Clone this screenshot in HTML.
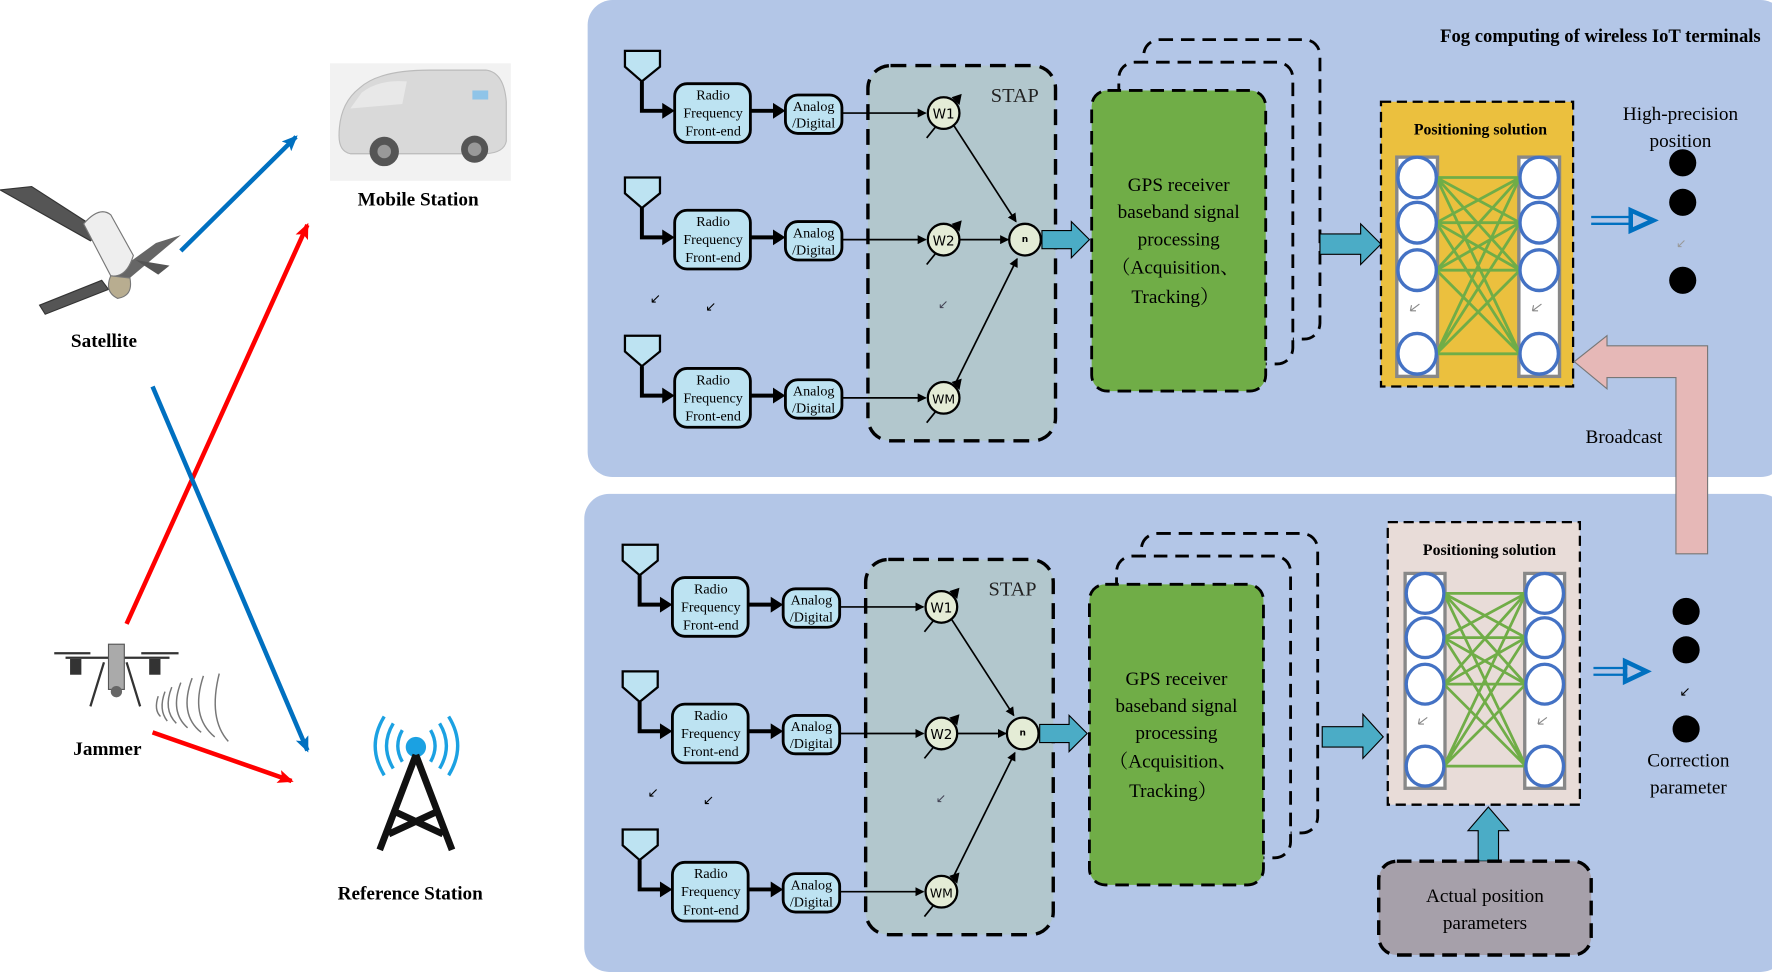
<!DOCTYPE html>
<html><head><meta charset="utf-8"><style>
html,body{margin:0;padding:0;background:#fff;}
svg{display:block;}
text{font-family:"Liberation Serif","DejaVu Serif",serif;}
text.s{font-family:"DejaVu Sans",sans-serif;}
text.a{font-family:"Liberation Sans",sans-serif;}
</style></head><body>
<svg width="1772" height="972" viewBox="0 0 1568 860" xmlns="http://www.w3.org/2000/svg">
<defs>
<marker id="ah" markerWidth="8" markerHeight="8" refX="7" refY="4" orient="auto" markerUnits="userSpaceOnUse"><path d="M0,0 L8,4 L0,8 z" fill="#000"/></marker>
<marker id="ahb" markerWidth="14" markerHeight="12" refX="12" refY="6" orient="auto" markerUnits="userSpaceOnUse"><path d="M0,0 L14,6 L0,12 L3,6 z" fill="#0070c0"/></marker>
<marker id="ahr" markerWidth="14" markerHeight="12" refX="12" refY="6" orient="auto" markerUnits="userSpaceOnUse"><path d="M0,0 L14,6 L0,12 L3,6 z" fill="#ff0000"/></marker>
<g id="row">
  <path d="M553,45 L584,45 L584,59 L568,72 L553,59 Z" fill="#bde3f2" stroke="#000" stroke-width="2"/>
  <path d="M568,72 L568,98 L588,98" fill="none" stroke="#000" stroke-width="3.5"/>
  <path d="M586,91 L597,98 L586,105 z" fill="#000"/>
  <rect x="597" y="74" width="67" height="52" rx="11" fill="#bde3f2" stroke="#000" stroke-width="2.5"/>
  <path d="M664,98 L686,98" stroke="#000" stroke-width="3.5"/>
  <path d="M684,91 L695,98 L684,105 z" fill="#000"/>
  <rect x="695" y="84" width="50" height="34" rx="11" fill="#bde3f2" stroke="#000" stroke-width="2.5"/>
  <path d="M745,100 L819,100" stroke="#000" stroke-width="1.5" marker-end="url(#ah)"/>
  <path d="M820,122 L849,86" stroke="#000" stroke-width="1.5"/>
  <path d="M842,86 L851,83 L849,93 z" fill="#000"/>
</g>
<g id="panel">
  <rect x="768" y="58" width="166" height="332" rx="20" fill="#b2c7cd" stroke="#000" stroke-width="3" stroke-dasharray="14,8"/>
  <use href="#row"/>
  <use href="#row" transform="translate(0,112)"/>
  <use href="#row" transform="translate(0,252)"/>
  <circle cx="835" cy="100" r="14" fill="#e4ecd6" stroke="#000" stroke-width="2"/>
  <circle cx="835" cy="212" r="14" fill="#e4ecd6" stroke="#000" stroke-width="2"/>
  <circle cx="835" cy="352" r="14" fill="#e4ecd6" stroke="#000" stroke-width="2"/>
  <circle cx="907" cy="212" r="14" fill="#e4ecd6" stroke="#000" stroke-width="2"/>
  <path d="M844,111 L899,196" stroke="#000" stroke-width="1.5" marker-end="url(#ah)"/>
  <path d="M849,212 L892,212" stroke="#000" stroke-width="1.5" marker-end="url(#ah)"/>
  <path d="M845,340 L900,229" stroke="#000" stroke-width="1.5" marker-end="url(#ah)"/>
  <path d="M922,204 L948,204 L948,196 L964,212 L948,228 L948,220 L922,220 Z" fill="#4bacc6" stroke="#000" stroke-width="1"/>
  <rect x="1012" y="35" width="156" height="265" rx="14" fill="none" stroke="#000" stroke-width="2.5" stroke-dasharray="12,7"/>
  <rect x="990" y="55" width="154" height="267" rx="14" fill="#b3c6e7" stroke="#000" stroke-width="2.5" stroke-dasharray="12,7"/>
  <rect x="966" y="80" width="154" height="266" rx="14" fill="#70ad47" stroke="#000" stroke-width="2.5" stroke-dasharray="12,7"/>
</g>
<g id="nn">
  <rect x="-18" y="-18" width="36" height="194" fill="#fff" stroke="#888" stroke-width="3"/>
  <rect x="90" y="-18" width="36" height="194" fill="#fff" stroke="#888" stroke-width="3"/>
  <g stroke="#70ad47" stroke-width="2.5">
   <path d="M17,0 L91,0 M17,0 L91,40 M17,0 L91,82 M17,0 L91,156 M17,40 L91,0 M17,40 L91,40 M17,40 L91,82 M17,40 L91,156 M17,82 L91,0 M17,82 L91,40 M17,82 L91,82 M17,82 L91,156 M17,156 L91,0 M17,156 L91,40 M17,156 L91,82 M17,156 L91,156"/>
  </g>
  <g fill="#fff" stroke="#4472c4" stroke-width="3">
   <ellipse cx="0" cy="0" rx="17" ry="18"/><ellipse cx="0" cy="40" rx="17" ry="18"/><ellipse cx="0" cy="82" rx="17" ry="18"/><ellipse cx="0" cy="156" rx="17" ry="18"/>
   <ellipse cx="108" cy="0" rx="17" ry="18"/><ellipse cx="108" cy="40" rx="17" ry="18"/><ellipse cx="108" cy="82" rx="17" ry="18"/><ellipse cx="108" cy="156" rx="17" ry="18"/>
  </g>
  <path d="M2,112 L-6,118 M-6,118 L-5,113 M-6,118 L-1,118 M110,112 L102,118 M102,118 L103,113 M102,118 L107,118" stroke="#888" stroke-width="1" fill="none"/>
</g>
</defs>

<rect x="520" y="0" width="1060" height="422" rx="22" fill="#b3c6e7"/>
<rect x="517" y="437" width="1063" height="423" rx="22" fill="#b3c6e7"/>
<use href="#panel"/>
<use href="#panel" transform="translate(-2,437)"/>

<g>
 <g font-size="12.5" text-anchor="middle">
  <text x="631" y="88">Radio</text><text x="631" y="104">Frequency</text><text x="631" y="120">Front-end</text>
  <text x="720" y="98">Analog</text><text x="720" y="113">/Digital</text>
  <text x="631" y="200">Radio</text><text x="631" y="216">Frequency</text><text x="631" y="232">Front-end</text>
  <text x="720" y="210">Analog</text><text x="720" y="225">/Digital</text>
  <text x="631" y="340">Radio</text><text x="631" y="356">Frequency</text><text x="631" y="372">Front-end</text>
  <text x="720" y="350">Analog</text><text x="720" y="365">/Digital</text>
 </g>
 <text x="898" y="90" font-size="18" text-anchor="middle" fill="#222">STAP</text>
 <text class="s" x="835" y="105" font-size="12" text-anchor="middle">W1</text>
 <text class="s" x="835" y="217" font-size="12" text-anchor="middle">W2</text>
 <text class="s" x="835" y="357" font-size="11" text-anchor="middle">WM</text>
 <text class="s" x="907" y="214" font-size="8" text-anchor="middle" font-weight="bold">n</text>
 <text class="a" x="575" y="268" font-size="12">↙</text>
 <text class="a" x="624" y="275" font-size="12">↙</text>
 <text class="a" x="830" y="273" font-size="11" fill="#445">↙</text>
 <g font-size="17" text-anchor="middle">
  <text x="1043" y="169">GPS receiver</text>
  <text x="1043" y="193">baseband signal</text>
  <text x="1043" y="217">processing</text>
  <text x="1040" y="242" style="font-family:'Liberation Serif','DejaVu Serif','Noto Serif CJK SC',serif">（Acquisition、</text>
  <text x="1040" y="268" style="font-family:'Liberation Serif','DejaVu Serif','Noto Serif CJK SC',serif">Tracking）</text>
 </g>
</g>
<g transform="translate(-2,437)">
 <g font-size="12.5" text-anchor="middle">
  <text x="631" y="88">Radio</text><text x="631" y="104">Frequency</text><text x="631" y="120">Front-end</text>
  <text x="720" y="98">Analog</text><text x="720" y="113">/Digital</text>
  <text x="631" y="200">Radio</text><text x="631" y="216">Frequency</text><text x="631" y="232">Front-end</text>
  <text x="720" y="210">Analog</text><text x="720" y="225">/Digital</text>
  <text x="631" y="340">Radio</text><text x="631" y="356">Frequency</text><text x="631" y="372">Front-end</text>
  <text x="720" y="350">Analog</text><text x="720" y="365">/Digital</text>
 </g>
 <text x="898" y="90" font-size="18" text-anchor="middle" fill="#222">STAP</text>
 <text class="s" x="835" y="105" font-size="12" text-anchor="middle">W1</text>
 <text class="s" x="835" y="217" font-size="12" text-anchor="middle">W2</text>
 <text class="s" x="835" y="357" font-size="11" text-anchor="middle">WM</text>
 <text class="s" x="907" y="214" font-size="8" text-anchor="middle" font-weight="bold">n</text>
 <text class="a" x="575" y="268" font-size="12">↙</text>
 <text class="a" x="624" y="275" font-size="12">↙</text>
 <text class="a" x="830" y="273" font-size="11" fill="#445">↙</text>
 <g font-size="17" text-anchor="middle">
  <text x="1043" y="169">GPS receiver</text>
  <text x="1043" y="193">baseband signal</text>
  <text x="1043" y="217">processing</text>
  <text x="1040" y="242" style="font-family:'Liberation Serif','DejaVu Serif','Noto Serif CJK SC',serif">（Acquisition、</text>
  <text x="1040" y="268" style="font-family:'Liberation Serif','DejaVu Serif','Noto Serif CJK SC',serif">Tracking）</text>
 </g>
</g>

<text x="1558" y="37" font-size="16.5" font-weight="bold" text-anchor="end">Fog computing of wireless IoT terminals</text>

<path d="M1168,207 L1204,207 L1204,198 L1222,216 L1204,234 L1204,225 L1168,225 Z" fill="#4bacc6" stroke="#000" stroke-width="1"/>
<rect x="1222" y="90" width="170" height="252" fill="#ebc03e" stroke="#000" stroke-width="2" stroke-dasharray="9,5"/>
<text x="1310" y="119" font-size="14" font-weight="bold" text-anchor="middle">Positioning solution</text>
<use href="#nn" transform="translate(1254,157)"/>
<path d="M1408,192 L1445,192 M1408,198 L1445,198" stroke="#0070c0" stroke-width="2"/>
<path d="M1443,186 L1463,195 L1443,204 Z" fill="none" stroke="#0070c0" stroke-width="4"/>
<text x="1487" y="106" font-size="17" text-anchor="middle">High-precision</text>
<text x="1487" y="130" font-size="17" text-anchor="middle">position</text>
<circle cx="1489" cy="144" r="12"/><circle cx="1489" cy="179" r="12"/><circle cx="1489" cy="248" r="12"/>
<text class="a" x="1483" y="219" font-size="11" fill="#999">↙</text>

<path d="M1511,490 L1511,306 L1422,306 L1422,297 L1393,320 L1422,344 L1422,334 L1483,334 L1483,490 Z" fill="#e6b8b7" stroke="#777" stroke-width="1"/>
<text x="1437" y="392" font-size="17" text-anchor="middle">Broadcast</text>

<path d="M1170,643 L1206,643 L1206,632 L1224,652 L1206,671 L1206,661 L1170,661 Z" fill="#4bacc6" stroke="#000" stroke-width="1"/>
<rect x="1228" y="462" width="170" height="250" fill="#e8dcd8" stroke="#000" stroke-width="2" stroke-dasharray="9,5"/>
<text x="1318" y="491" font-size="14" font-weight="bold" text-anchor="middle">Positioning solution</text>
<g transform="translate(1261,525) scale(0.98,0.98)"><use href="#nn"/></g>
<path d="M1308,762 L1308,735 L1299,735 L1317,714 L1335,735 L1326,735 L1326,762 Z" fill="#4bacc6" stroke="#000" stroke-width="1"/>
<rect x="1220" y="762" width="188" height="83" rx="16" fill="#a6a0aa" stroke="#000" stroke-width="3" stroke-dasharray="13,7"/>
<text x="1314" y="798" font-size="17" text-anchor="middle">Actual position</text>
<text x="1314" y="822" font-size="17" text-anchor="middle">parameters</text>
<path d="M1410,591 L1440,591 M1410,597 L1440,597" stroke="#0070c0" stroke-width="2"/>
<path d="M1438,585 L1457,594 L1438,603 Z" fill="none" stroke="#0070c0" stroke-width="4"/>
<circle cx="1492" cy="541" r="12"/><circle cx="1492" cy="575" r="12"/><circle cx="1492" cy="645" r="12"/>
<text class="a" x="1486" y="616" font-size="12">↙</text>
<text x="1494" y="678" font-size="17" text-anchor="middle">Correction</text>
<text x="1494" y="702" font-size="17" text-anchor="middle">parameter</text>

<rect x="292" y="56" width="160" height="104" fill="#f2f2f2"/>
<path d="M300,120 Q300,92 318,78 Q335,62 380,62 L430,62 Q446,64 448,90 L448,125 Q446,135 430,136 L310,136 Q300,134 300,120 Z" fill="#d9d9d9" stroke="#bbb"/>
<path d="M320,82 Q335,70 360,72 L356,92 L310,96 Z" fill="#e8e8e8"/>
<circle cx="340" cy="134" r="13" fill="#555"/><circle cx="420" cy="132" r="12" fill="#555"/>
<circle cx="340" cy="134" r="6" fill="#999"/><circle cx="420" cy="132" r="6" fill="#999"/>
<rect x="418" y="80" width="14" height="8" fill="#8fc4e8"/>
<text x="370" y="182" font-size="17" font-weight="bold" text-anchor="middle">Mobile Station</text>
<path d="M0,168 L28,165 L90,205 L80,213 Z" fill="#555" stroke="#333"/>
<path d="M138,215 L160,208 L110,250 L98,244 Z" fill="#666"/>
<path d="M35,270 L90,248 L96,256 L40,278 Z" fill="#555" stroke="#333"/>
<path d="M120,230 L150,235 L140,243 Z" fill="#555"/>
<path d="M74,198 Q88,182 98,190 L118,226 Q112,246 98,244 Z" fill="#eee" stroke="#777"/>
<path d="M98,244 L115,246 Q118,262 104,264 Q92,258 98,244 Z" fill="#b8ad90" stroke="#777"/>
<text x="92" y="307" font-size="17" font-weight="bold" text-anchor="middle">Satellite</text>
<g stroke="#333" stroke-width="2" fill="none">
<path d="M58,582 L150,582 M48,578 L80,578 M125,578 L158,578"/>
<path d="M92,586 L80,625 M112,586 L124,625"/>
</g>
<rect x="62" y="583" width="10" height="14" fill="#333"/><rect x="132" y="583" width="10" height="14" fill="#333"/>
<rect x="96" y="570" width="14" height="40" fill="#aaa" stroke="#555"/>
<circle cx="103" cy="612" r="5" fill="#666"/>
<g fill="none" stroke="#777" stroke-width="1.3">
<path d="M140,616 Q136,628 142,634"/><path d="M146,612 Q140,628 148,638"/><path d="M152,608 Q144,628 156,640"/>
<path d="M160,604 Q150,630 166,644"/><path d="M170,600 Q158,632 178,648"/><path d="M180,598 Q168,634 190,652"/><path d="M194,596 Q184,636 202,656"/>
</g>
<text x="95" y="668" font-size="17" font-weight="bold" text-anchor="middle">Jammer</text>
<g fill="none" stroke="#1ba1e2" stroke-width="3">
<path d="M356,646 Q348,660 356,674"/><path d="M348,640 Q336,660 348,680"/><path d="M340,634 Q324,660 340,686"/>
<path d="M381,646 Q389,660 381,674"/><path d="M389,640 Q401,660 389,680"/><path d="M397,634 Q413,660 397,686"/>
</g>
<circle cx="368" cy="661" r="9" fill="#1ba1e2"/>
<path d="M368,668 L336,752 M368,668 L400,752 M349,718 L392,738 M387,718 L344,738" stroke="#111" stroke-width="6" fill="none"/>
<text x="363" y="796" font-size="17" font-weight="bold" text-anchor="middle">Reference Station</text>
<path d="M160,222 L262,121" stroke="#0070c0" stroke-width="4" marker-end="url(#ahb)"/>
<path d="M112,552 L272,199" stroke="#ff0000" stroke-width="4" marker-end="url(#ahr)"/>
<path d="M135,342 L272,664" stroke="#0070c0" stroke-width="4" marker-end="url(#ahb)"/>
<path d="M135,648 L258,691" stroke="#ff0000" stroke-width="4" marker-end="url(#ahr)"/>
</svg>
</body></html>
